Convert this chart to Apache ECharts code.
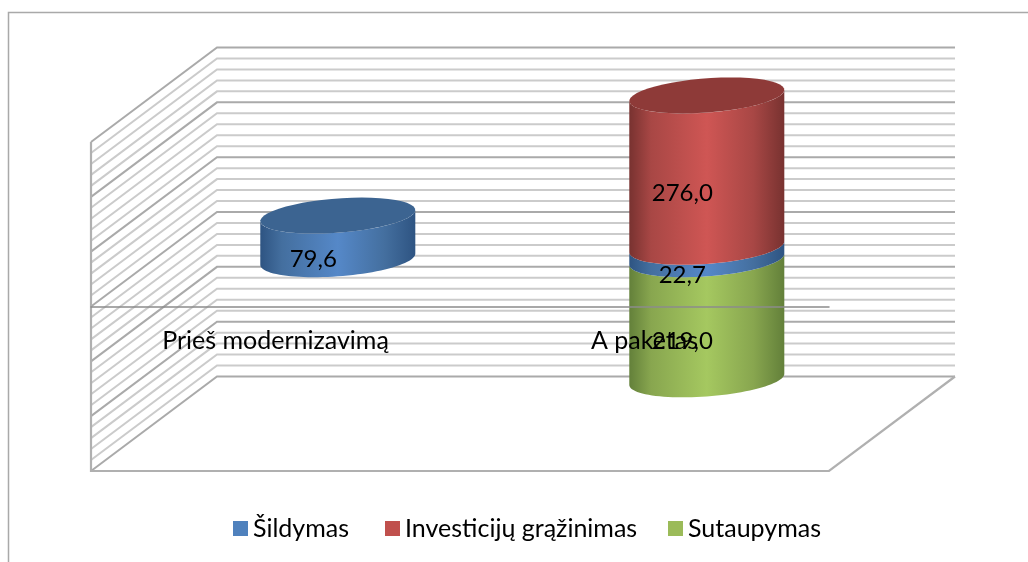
<!DOCTYPE html>
<html>
<head>
<meta charset="utf-8">
<script src="https://cdn.jsdelivr.net/npm/echarts@6/dist/echarts.min.js"></script>
<style>html,body{margin:0;padding:0;background:#fff}#c{width:1028px;height:562px}</style>
</head>
<body>
<div id="c"></div>
<script>
const categories = ['Prieš modernizavimą', 'A paketas'];
const sildymas = [79.6, 22.7];
const investicijos = [0, 276.0];
const sutaupymas = [0, -219.0];
const minorTicks = [-280,-260,-240,-220,-180,-160,-140,-120,-80,-60,-40,-20,20,40,60,80,120,140,160,180,220,240,260,280];
const majorTicks = [-300,-200,-100,0,100,200,300];

const DEPTH = [126, -94.5];
const A = 73.7, B = 24, C = -18;

const fmt = v => Math.abs(v).toFixed(1).replace('.', ',');
const chart = echarts.init(document.getElementById('c'));

function ellipsePts(cx, cy, from, to) {
  const pts = [], n = 48;
  for (let i = 0; i <= n; i++) {
    const t = from + (to - from) * i / n;
    pts.push([cx + A * Math.cos(t) + B * Math.sin(t), cy + C * Math.sin(t)]);
  }
  return pts;
}
const tL = Math.atan2(B, A);

function cylinderRender(side, top) {
  return function (params, api) {
    const cat = api.value(0), from = api.value(1), to = api.value(2);
    if (from === to) return { type: 'group', children: [] };
    const a = api.coord([cat, from]), b = api.coord([cat, to]);
    const cx = a[0] + DEPTH[0] / 2 - 0.7;
    const y0 = a[1] + DEPTH[1] / 2, y1 = b[1] + DEPTH[1] / 2;
    const upper = Math.min(y0, y1), lower = Math.max(y0, y1);
    const frontLow = ellipsePts(cx, lower, tL, tL - Math.PI);
    const frontUp = ellipsePts(cx, upper, tL - Math.PI, tL);
    const children = [{
      type: 'polygon',
      shape: { points: frontLow.concat(frontUp) },
      style: { fill: { type: 'linear', x: 0, y: 0, x2: 1, y2: 0, colorStops: side } }
    }];
    if (api.value(3)) {
      children.push({
        type: 'polygon',
        shape: { points: ellipsePts(cx, upper, 0, Math.PI * 2) },
        style: { fill: top }
      });
    }
    children.push({
      type: 'text',
      z2: 50,
      style: {
        x: cx - 24.5, y: (upper + lower) / 2 + 22,
        text: fmt(to - from),
        fill: '#000', font: '24px Lato', align: 'center', verticalAlign: 'middle'
      }
    });
    return { type: 'group', children };
  };
}

function stops(e1, e2, m) {
  return [
    { offset: 0, color: e1 }, { offset: 0.14, color: e2 },
    { offset: 0.5, color: m }, { offset: 0.8, color: e2 }, { offset: 1, color: e1 }
  ];
}
const blueSide = stops('#2e5482', '#446f9f', '#5588c8');
const redSide = stops('#783230', '#a84745', '#cf5654');
const greenSide = stops('#63803a', '#88a64f', '#a5c860');

const wallRender = (width, color) => function (params, api) {
  const p = api.coord([0, api.value(1)]);
  const cs = params.coordSys;
  const x0 = cs.x;
  return {
    type: 'polyline',
    shape: { points: [[x0, p[1]], [x0 + DEPTH[0], p[1] + DEPTH[1]], [x0 + DEPTH[0] + cs.width, p[1] + DEPTH[1]]] },
    style: { fill: 'none', stroke: color, lineWidth: width }
  };
};
const frameRender = function (params, api) {
  const cs = params.coordSys;
  const x0 = cs.x, y1 = cs.y + cs.height, y0 = cs.y, x1 = cs.x + cs.width;
  return {
    type: 'polyline',
    shape: { points: [[x0, y0], [x0, y1], [x1, y1], [x1 + DEPTH[0], y1 + DEPTH[1]]] },
    style: { fill: 'none', stroke: '#b0b0b0', lineWidth: 2.2 }
  };
};

const blueRows = sildymas.map((v, i) => [i, 0, v, investicijos[i] === 0 ? 1 : 0]);
const redRows = investicijos.map((v, i) => [i, sildymas[i], sildymas[i] + v, v !== 0 ? 1 : 0]);
const greenRows = sutaupymas.map((v, i) => [i, 0, v, 0]);

const cylSeries = (name, rows, color, side, top, z) => ({
  name, type: 'custom', coordinateSystem: 'cartesian2d', z,
  itemStyle: { color },
  encode: { x: 0, y: [1, 2] },
  data: rows, silent: true, animation: false, clip: false,
  renderItem: cylinderRender(side, top)
});
const legendAt = (left, name) => ({
  left, top: 516, itemWidth: 15, itemHeight: 15, icon: 'rect', selectedMode: false,
  data: [name], padding: 0,
  textStyle: { color: '#000', fontSize: 25, fontFamily: 'Lato' }
});

chart.setOption({
  animation: false,
  backgroundColor: '#fff',
  textStyle: { fontFamily: 'Lato' },
  graphic: [{
    type: 'polyline', silent: true,
    shape: { points: [[8.5, 562], [8.5, 12.5], [1028, 12.5]] },
    style: { fill: 'none', stroke: '#a9a9a9', lineWidth: 1.5 }
  }],
  grid: { left: 91, top: 142, width: 738, height: 329 },
  xAxis: {
    type: 'category', data: categories, z: 6,
    axisTick: { show: false },
    axisLine: { onZero: true, lineStyle: { color: '#8c8c8c', width: 1.5 } },
    axisLabel: { color: '#000', fontSize: 25, fontFamily: 'Lato', margin: -143, interval: 0 }
  },
  yAxis: { type: 'value', min: -300, max: 300, interval: 100, show: false, splitLine: { show: false } },
  legend: [legendAt(233, 'Šildymas'), legendAt(385, 'Investicijų grąžinimas'), legendAt(668, 'Sutaupymas')],
  series: [
    { type: 'custom', coordinateSystem: 'cartesian2d', z: 1, silent: true, clip: false,
      encode: { x: 0, y: 1 }, data: minorTicks.map(t => [0, t]), renderItem: wallRender(2, '#cbcbcb') },
    { type: 'custom', coordinateSystem: 'cartesian2d', z: 1, silent: true, clip: false,
      encode: { x: 0, y: 1 }, data: majorTicks.map(t => [0, t]), renderItem: wallRender(2, '#aaaaaa') },
    { type: 'custom', coordinateSystem: 'cartesian2d', z: 1, silent: true, clip: false,
      encode: { x: 0, y: 1 }, data: [[0, 0]], renderItem: frameRender },
    cylSeries('Sutaupymas', greenRows, '#9bbb59', greenSide, '#7c9a45', 3),
    cylSeries('Šildymas', blueRows, '#4f81bd', blueSide, '#3c6491', 4),
    cylSeries('Investicijų grąžinimas', redRows, '#c0504d', redSide, '#8e3a38', 5)
  ]
});
</script>
</body>
</html>
